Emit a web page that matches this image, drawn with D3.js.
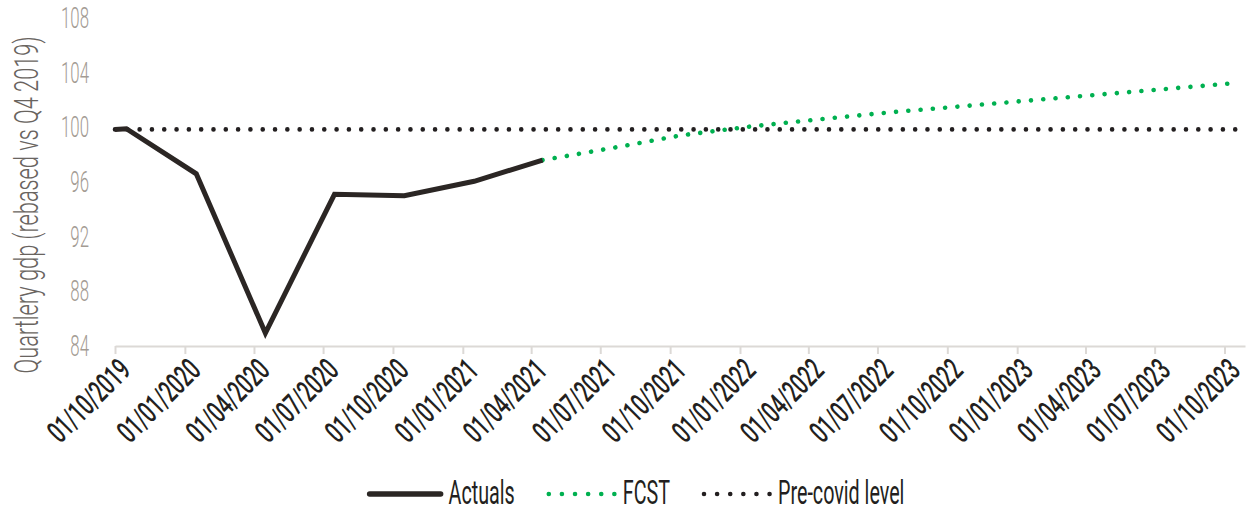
<!DOCTYPE html>
<html>
<head>
<meta charset="utf-8">
<script src="https://cdn.jsdelivr.net/npm/d3@7"></script>
<style>
  body { margin: 0; background: #fff; }
  text { font-family: Roboto, "Noto Sans", sans-serif; }
</style>
</head>
<body>
<script>
// data
const actualDates = ["2019-10-01", "2019-10-16", "2020-01-16", "2020-04-16", "2020-07-16",
                     "2020-10-16", "2021-01-16", "2021-04-16"];
const actualValues = [99.85, 99.9, 96.6, 84.95, 95.1, 95.0, 96.05, 97.6];

const fcstDates = ["2021-04-16", "2021-07-16", "2021-10-16", "2022-01-16", "2022-04-16",
                   "2022-07-16", "2022-10-16", "2023-01-16", "2023-04-16", "2023-07-16", "2023-10-16"];
const fcstValues = [97.6, 98.48, 99.42, 100.07, 100.59, 101.09, 101.52, 101.96, 102.38, 102.81, 103.24];

const precovidDates = ["2019-10-01", "2023-10-16"];
const precovidValues = [99.85, 99.85];

const yTicks = [84, 88, 92, 96, 100, 104, 108];
const xTickDates = ["2019-10-01", "2020-01-01", "2020-04-01", "2020-07-01", "2020-10-01",
                    "2021-01-01", "2021-04-01", "2021-07-01", "2021-10-01", "2022-01-01",
                    "2022-04-01", "2022-07-01", "2022-10-01", "2023-01-01", "2023-04-01",
                    "2023-07-01", "2023-10-01"];
const seriesNames = ["Actuals", "FCST", "Pre-covid level"];

const width = 1251, height = 513;
const margin = {top: 18, right: 6, bottom: 167, left: 115};

const parse = d3.timeParse("%Y-%m-%d");
const fmt = d3.timeFormat("%d/%m/%Y");

let svg = d3.select("body").append("svg")
    .attr("width", width)
    .attr("height", height);

let x = d3.scaleTime()
    .domain([parse("2019-10-01"), parse("2023-10-28")])
    .range([margin.left, width - margin.right]);

let y = d3.scaleLinear()
    .domain([84, 108])
    .range([height - margin.bottom, margin.top]);

// x axis
let xAxis = svg.append("g")
    .attr("transform", `translate(0, ${y(84)})`)
    .call(d3.axisBottom(x)
        .tickValues(xTickDates.map(parse))
        .tickSize(8)
        .tickSizeOuter(0)
        .tickFormat(fmt));

xAxis.select(".domain").attr("stroke", "#dcd9d6").attr("stroke-width", 2);
xAxis.selectAll(".tick line").attr("stroke", "#dcd9d6").attr("stroke-width", 2);
xAxis.selectAll(".tick text")
    .attr("y", 0).attr("dy", 0)
    .attr("text-anchor", "end")
    .attr("transform", `translate(17, 26) rotate(-45) scale(0.62, 1)`)
    .attr("fill", "#231f20")
    .style("font-size", "31px")
    .style("font-weight", 500);

// y axis, labels only
let yAxis = svg.append("g")
    .attr("transform", `translate(89, 0)`)
    .call(d3.axisLeft(y).tickValues(yTicks).tickSize(0));
yAxis.select(".domain").remove();
yAxis.selectAll(".tick text")
    .attr("x", 0)
    .attr("transform", `scale(0.56, 1)`)
    .attr("fill", "#a39b93")
    .style("font-size", "30px")
    .style("font-weight", 300);

svg.append("text")
    .attr("transform", `translate(38, 205) rotate(-90) scale(0.64, 1)`)
    .attr("text-anchor", "middle")
    .attr("fill", "#69645f")
    .style("font-size", "34px")
    .style("font-weight", 300)
    .text("Quartlery gdp (rebased vs Q4 2019)");

// lines
let line = d3.line()
    .x(d => x(d[0]))
    .y(d => y(d[1]));

const toPts = (ds, vs) => ds.map((d, i) => [parse(d), vs[i]]);

function dots(sel, color, gap) {
    sel.attr("fill", "none")
        .attr("stroke", color)
        .attr("stroke-width", 4.6)
        .attr("stroke-linecap", "round")
        .attr("stroke-dasharray", `0.01 ${gap}`);
}

svg.append("path")
    .datum(toPts(precovidDates, precovidValues))
    .attr("d", line)
    .call(dots, "#231f20", 12.3);

svg.append("path")
    .datum(toPts(fcstDates, fcstValues))
    .attr("d", line)
    .call(dots, "#00b050", 12.3);

svg.append("path")
    .datum(toPts(actualDates, actualValues))
    .attr("d", line)
    .attr("fill", "none")
    .attr("stroke", "#2b2624")
    .attr("stroke-width", 5)
    .attr("stroke-linejoin", "miter");

// legend
let legend = svg.append("g");
const swatchW = [71, 66, 66];
const legendY = 494;
let cursor = 0;
seriesNames.forEach((name, i) => {
    let g = legend.append("g").attr("transform", `translate(${cursor}, 0)`);
    let sw = g.append("line")
        .attr("x1", 0).attr("x2", swatchW[i])
        .attr("y1", legendY).attr("y2", legendY);
    if (i == 0) {
        sw.attr("stroke", "#2b2624").attr("stroke-width", 5.5).attr("stroke-linecap", "round");
    } else {
        sw.call(dots, i == 1 ? "#00b050" : "#231f20", 13.1);
    }
    let t = g.append("text")
        .attr("transform", `translate(${swatchW[i] + 8}, ${legendY + 10}) scale(0.58, 1)`)
        .attr("fill", "#231f20")
        .style("font-size", "34px")
        .text(name);
    cursor += swatchW[i] + 8 + t.node().getComputedTextLength() * 0.58 + 34;
});
cursor -= 34;
legend.attr("transform", `translate(${637 - cursor / 2}, 0)`);
</script>
</body>
</html>
